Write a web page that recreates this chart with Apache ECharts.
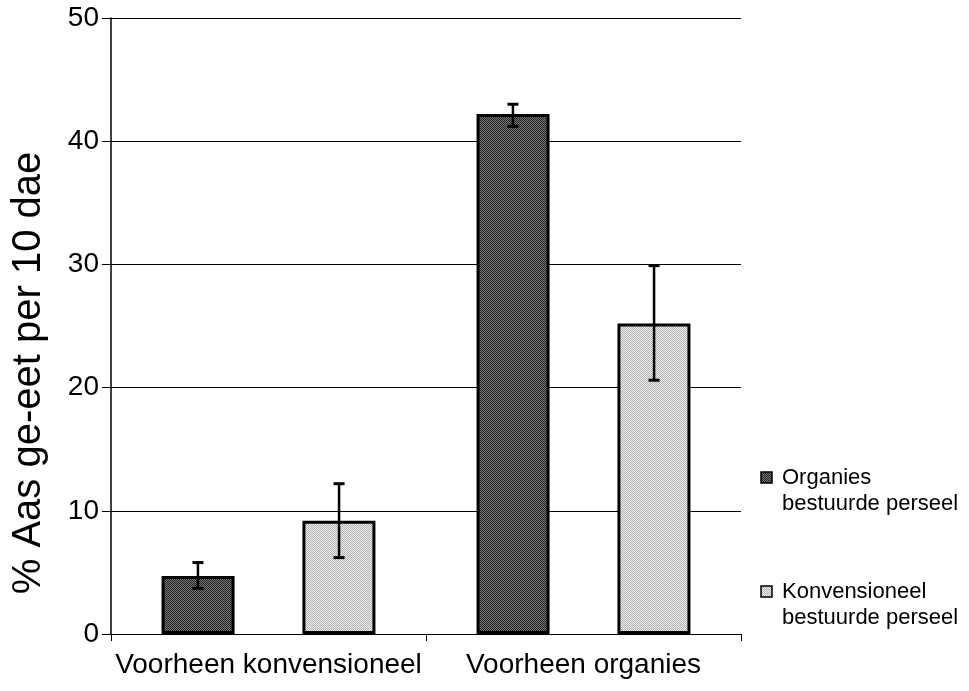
<!DOCTYPE html>
<html>
<head>
<meta charset="utf-8">
<script src="https://cdn.jsdelivr.net/npm/echarts@6/dist/echarts.min.js"></script>
<style>
html,body{margin:0;padding:0;background:#fff;}
#main{width:969px;height:691px;}
</style>
</head>
<body>
<div id="main"></div>
<script>
// data
var categories=['Voorheen konvensioneel','Voorheen organies'];
var seriesNames=['Organies\nbestuurde perseel','Konvensioneel\nbestuurde perseel'];
var organiesVals=[4.7,42.2];
var organiesLow=[3.7,41.2];
var organiesHigh=[5.8,43.0];
var konvVals=[9.2,25.2];
var konvLow=[6.2,20.6];
var konvHigh=[12.2,29.9];
var yTicks=[0,10,20,30,40,50];

//maak 'n fyn patroon vir die stawe
function pattern(c1,c2){
	var cv=document.createElement('canvas');
	cv.width=4;cv.height=4;
	var ctx=cv.getContext('2d');
	ctx.fillStyle=c1;
	ctx.fillRect(0,0,4,4);
	ctx.fillStyle=c2;
	for(var y=0;y<4;y++){
		for(var x=0;x<4;x++){
			if((x+y)%2==0) ctx.fillRect(x,y,1,1);
		}
	}
	return {image:cv,repeat:'repeat'};
}
var darkFill=pattern('#7a7a7a','#202020');
var lightFill=pattern('#f0f0f0','#b0b0b0');

var font='Liberation Sans, Arial, sans-serif';
var shift=0.224; //bar offset as fraction of category width

function errorSeries(low,high,side){
	var data=[];
	for(var i=0;i<low.length;i++){
		data.push([i,low[i],high[i]]);
	}
	return {
		type:'custom',
		z:10,
		data:data,
		renderItem:function(params,api){
			var catW=api.size([1,0])[0];
			var lo=api.coord([api.value(0),api.value(1)]);
			var hi=api.coord([api.value(0),api.value(2)]);
			var x=lo[0]+side*shift*catW;
			var cap=5.5;
			var st={stroke:'#000',lineWidth:2.5};
			var cs={stroke:'#000',lineWidth:3};
			return {type:'group',children:[
				{type:'line',shape:{x1:x,y1:hi[1],x2:x,y2:lo[1]},style:st},
				{type:'line',shape:{x1:x-cap,y1:hi[1],x2:x+cap,y2:hi[1]},style:cs},
				{type:'line',shape:{x1:x-cap,y1:lo[1],x2:x+cap,y2:lo[1]},style:cs}
			]};
		}
	};
}

var myChart=echarts.init(document.getElementById('main'));
var option={
	backgroundColor:'#fff',
	animation:false,
	grid:{left:111,right:228,top:18,bottom:57},
	xAxis:{
		type:'category',
		data:categories,
		axisLine:{lineStyle:{color:'#000',width:1}},
		axisTick:{show:true,length:7,lineStyle:{color:'#000'}},
		axisLabel:{color:'#000',fontFamily:font,fontSize:28,margin:17,interval:0,hideOverlap:false}
	},
	yAxis:{
		type:'value',
		min:yTicks[0],
		max:yTicks[yTicks.length-1],
		interval:10,
		axisLine:{show:true,lineStyle:{color:'#000',width:1.5}},
		axisTick:{show:true,length:9,lineStyle:{color:'#000'}},
		splitLine:{show:true,lineStyle:{color:'#000',width:1}},
		axisLabel:{color:'#000',fontFamily:font,fontSize:28,margin:12}
	},
	series:[
		{
			name:seriesNames[0],
			type:'bar',
			data:organiesVals,
			barWidth:73,
			barGap:'93%',
			itemStyle:{color:darkFill,borderColor:'#000',borderWidth:3}
		},
		{
			name:seriesNames[1],
			type:'bar',
			data:konvVals,
			barWidth:73,
			itemStyle:{color:lightFill,borderColor:'#000',borderWidth:3}
		},
		errorSeries(organiesLow,organiesHigh,-1),
		errorSeries(konvLow,konvHigh,1)
	],
	graphic:[
		{type:'text',x:29,y:373,rotation:Math.PI/2,
			style:{text:'% Aas ge-eet per 10 dae',fill:'#000',font:'40px '+font,textAlign:'center',textVerticalAlign:'middle'}},
		{type:'rect',shape:{x:761,y:472,width:11,height:11},style:{fill:darkFill,stroke:'#000',lineWidth:1.5}},
		{type:'text',x:782,y:465,style:{text:seriesNames[0],fill:'#000',font:'22px '+font,lineHeight:26}},
		{type:'rect',shape:{x:761,y:586,width:11,height:11},style:{fill:lightFill,stroke:'#000',lineWidth:1.5}},
		{type:'text',x:782,y:579,style:{text:seriesNames[1],fill:'#000',font:'22px '+font,lineHeight:26}}
	]
};
myChart.setOption(option);
</script>
</body>
</html>
